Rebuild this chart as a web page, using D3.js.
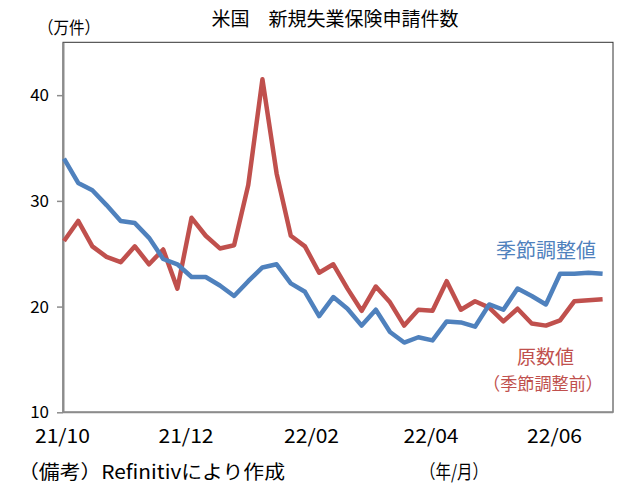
<!DOCTYPE html>
<html><head><meta charset="utf-8">
<script src="https://cdn.jsdelivr.net/npm/d3@7"></script>
<style>
html,body{margin:0;padding:0;background:#fff;}
svg{display:block;}
text{font-family:"Noto Sans CJK JP","Noto Sans",sans-serif;}
</style></head>
<body>
<svg id="c" width="642" height="494"></svg>
<script>
const weeks = ["2021-10-02","2021-10-09","2021-10-16","2021-10-23","2021-10-30","2021-11-06","2021-11-13","2021-11-20","2021-11-27","2021-12-04","2021-12-11","2021-12-18","2021-12-25","2022-01-01","2022-01-08","2022-01-15","2022-01-22","2022-01-29","2022-02-05","2022-02-12","2022-02-19","2022-02-26","2022-03-05","2022-03-12","2022-03-19","2022-03-26","2022-04-02","2022-04-09","2022-04-16","2022-04-23","2022-04-30","2022-05-07","2022-05-14","2022-05-21","2022-05-28","2022-06-04","2022-06-11","2022-06-18","2022-06-25"];
const seasonallyAdjusted = [34.0,31.7,31.0,29.6,28.1,27.9,26.5,24.5,24.0,22.8,22.8,22.0,21.0,22.4,23.7,24.0,22.2,21.4,19.1,20.9,19.8,18.2,19.7,17.6,16.6,17.1,16.8,18.6,18.5,18.1,20.2,19.7,21.7,21.0,20.2,23.1,23.1,23.2,23.1];
const rawValues = [26.2,28.1,25.7,24.7,24.2,25.7,24.0,25.4,21.7,28.4,26.7,25.5,25.8,31.5,41.5,32.6,26.7,25.7,23.2,24.0,21.7,19.6,21.9,20.4,18.2,19.7,19.6,22.4,19.7,20.5,19.9,18.6,19.8,18.4,18.2,18.7,20.5,20.6,20.7];
const xTickDates = ["2021-10-01","2021-12-01","2022-02-01","2022-04-01","2022-06-01"];
const xTickLabels = ["21/10","21/12","22/02","22/04","22/06"];
const yTicks = [10,20,30,40];

const parse = d3.timeParse("%Y-%m-%d");
const dates = weeks.map(parse);
const svg = d3.select("#c");
const L = 63, R = 613, T = 42.3, B = 412.3;

const x = d3.scaleTime().domain([dates[0], dates[dates.length-1]]).range([64, 602.6]);
const y = d3.scaleLinear().domain([10,45]).range([B, T]);

// plot frame
svg.append("rect").attr("x",L).attr("y",T).attr("width",R-L).attr("height",B-T)
  .attr("fill","none").attr("stroke","#333").attr("stroke-width",1);

// y axis
const ya = svg.append("g").attr("transform",`translate(${L},0)`)
  .call(d3.axisLeft(y).tickValues(yTicks).tickSize(6).tickSizeOuter(0).tickFormat(d3.format("d")));
ya.select(".domain").attr("stroke","#8c8c8c").attr("stroke-width",2);
ya.selectAll(".tick line").attr("stroke","#8c8c8c").attr("stroke-width",1.5);
ya.selectAll(".tick text").attr("font-family","'Liberation Sans',Arial,sans-serif").attr("font-size",17).attr("fill","#000").attr("x",-14);

// x axis baseline
svg.append("line").attr("x1",L).attr("x2",R).attr("y1",B).attr("y2",B).attr("stroke","#8c8c8c").attr("stroke-width",2);

const xa = svg.append("g").attr("transform",`translate(0,${B})`)
  .call(d3.axisBottom(x).tickValues(xTickDates.map(parse)).tickSize(0)
    .tickFormat((d,i)=>xTickLabels[i]));
xa.select(".domain").remove();
xa.selectAll(".tick text").attr("font-size",19).attr("fill","#000").attr("y",17)
  .attr("font-family","'Noto Sans CJK JP',sans-serif")
  .attr("textLength",55).attr("lengthAdjust","spacingAndGlyphs");

// lines
const line = d3.line().x((d,i)=>x(dates[i])).y(d=>y(d)).curve(d3.curveLinear);
svg.append("path").datum(rawValues).attr("d",line).attr("fill","none")
  .attr("stroke","#c0504d").attr("stroke-width",4.5).attr("stroke-linejoin","round");
svg.append("path").datum(seasonallyAdjusted).attr("d",line).attr("fill","none")
  .attr("stroke","#4f81bd").attr("stroke-width",4.5).attr("stroke-linejoin","round");

// texts
svg.append("text").attr("x",335).attr("y",26).attr("text-anchor","middle").attr("font-size",19).attr("fill","#000").text("米国　新規失業保険申請件数");
svg.append("text").attr("x",38).attr("y",34).attr("font-size",17).attr("fill","#000").text("（万件）")
  .attr("textLength",62).attr("lengthAdjust","spacingAndGlyphs");
svg.append("text").attr("x",596).attr("y",258).attr("text-anchor","end").attr("font-size",20).attr("fill","#4f81bd").text("季節調整値");
svg.append("text").attr("x",574).attr("y",364).attr("text-anchor","end").attr("font-size",19).attr("fill","#c0504d").text("原数値");
svg.append("text").attr("x",483).attr("y",390).attr("font-size",17.5).attr("fill","#c0504d").text("（季節調整前）")
  .attr("textLength",120).attr("lengthAdjust","spacingAndGlyphs");
svg.append("text").attr("x",18).attr("y",479).attr("font-size",19).attr("fill","#000").text("（備考）Refinitivにより作成")
  .attr("textLength",267).attr("lengthAdjust","spacingAndGlyphs");
svg.append("text").attr("x",420).attr("y",479).attr("font-size",19).attr("fill","#000").text("（年/月）")
  .attr("textLength",68).attr("lengthAdjust","spacingAndGlyphs");
</script>
</body></html>
